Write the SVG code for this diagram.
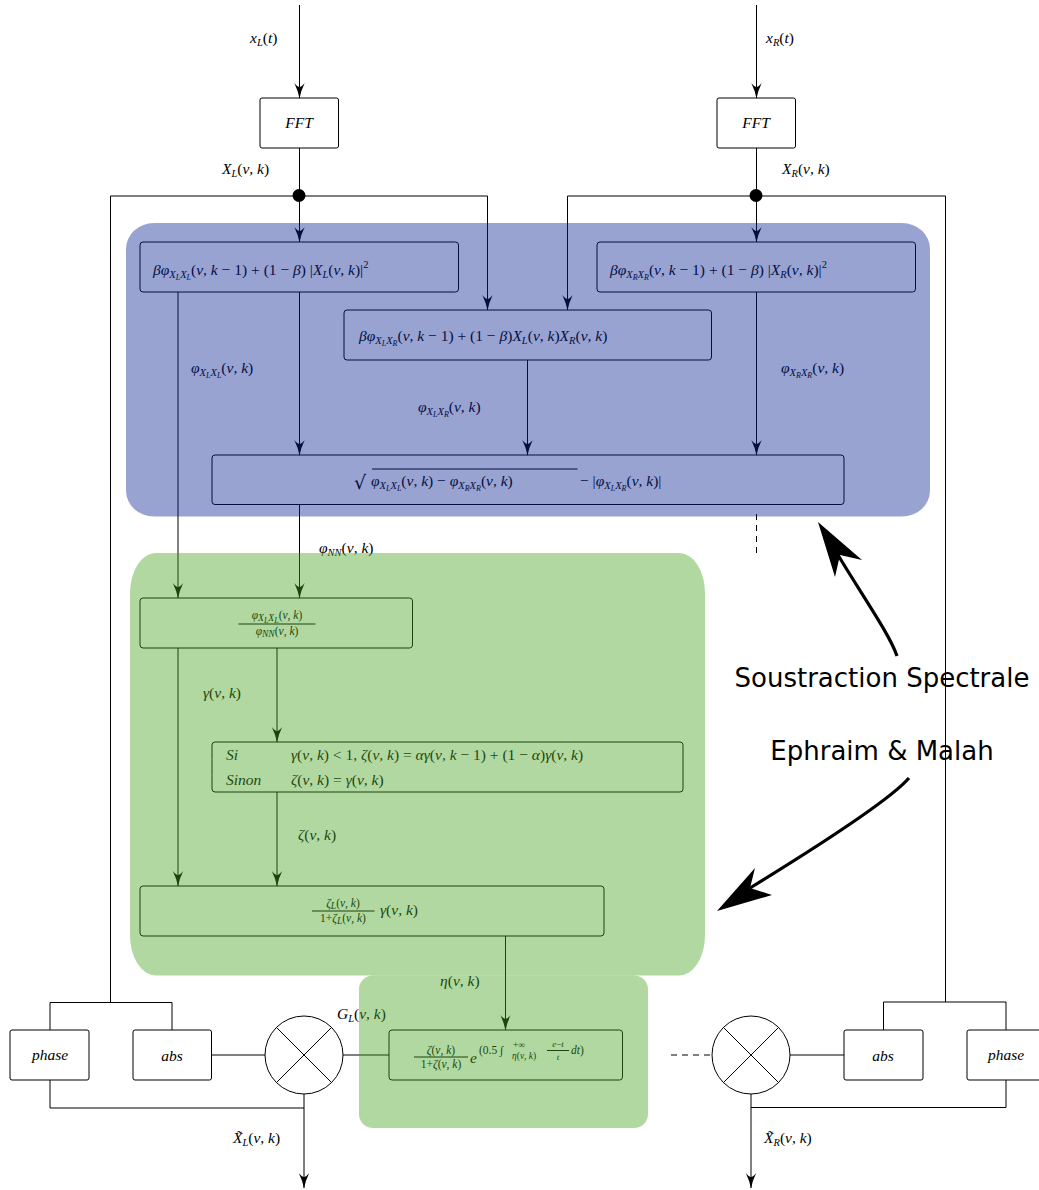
<svg xmlns="http://www.w3.org/2000/svg" width="1039" height="1190" viewBox="0 0 1039 1190">
<style>
.bg{fill:#fff}
.c{fill:none;stroke:#000;stroke-width:1}
.a{marker-end:url(#ah)}
.d{stroke-dasharray:6 5}
.n{fill:none;stroke:#000;stroke-width:1}
.m{font-family:"Liberation Serif",serif;font-size:15.5px;font-style:italic;fill:#000}
.mc{text-anchor:middle}
.f{font-size:11.5px}
.x{font-size:9.5px}
.u{font-style:normal}
.s{font-size:10.5px}
.fs{font-size:8px}
.bl{fill:rgb(10,36,148);opacity:.42}
.gr{fill:rgb(69,162,31);opacity:.42}
.lab{font-family:"DejaVu Sans",sans-serif;font-size:26px;fill:#000;text-anchor:middle}
.big{fill:none;stroke:#000;stroke-width:3.2}
.seam{stroke:#fff;stroke-width:.7;opacity:.28;fill:none}
</style>
<defs>
<marker id="ah" markerUnits="userSpaceOnUse" markerWidth="16" markerHeight="12" refX="15.5" refY="6" orient="auto">
<path d="M16,6 Q8,4.5 .5,.8 Q4.5,4 4.5,6 Q4.5,8 .5,11.2 Q8,7.5 16,6Z" fill="#000"/>
</marker>
</defs>
<rect class="bg" width="1039" height="1190"/>
<g id="connectors">
<path class="c a" d="M299.5,5V98"/>
<path class="c a" d="M756.5,5V98"/>
<path class="c" d="M299.5,148V196"/>
<path class="c" d="M756.5,148V196"/>
<path class="c a" d="M299.5,196V242"/>
<path class="c a" d="M756.5,196V242"/>
<path class="c a" d="M299.5,196H487.5V310"/>
<path class="c a" d="M756.5,196H567.5V310"/>
<path class="c" d="M299.5,196H110.5V1002.5"/>
<path class="c" d="M756.5,196H945.5V1002"/>
<path class="c" d="M50,1030V1002.5H172V1030"/>
<path class="c" d="M883.5,1030V1002H1006V1030"/>
<path class="c a" d="M178,292V598"/>
<path class="c a" d="M299.5,292V455"/>
<path class="c a" d="M527.5,360V455"/>
<path class="c a" d="M756.5,292V455"/>
<path class="c a" d="M299.5,504V598"/>
<path class="c d" d="M756.5,514V556"/>
<path class="c a" d="M277,648V742"/>
<path class="c a" d="M178,648V886"/>
<path class="c a" d="M277,792V886"/>
<path class="c a" d="M505.5,936V1030"/>
<path class="c" d="M211,1055H265"/>
<path class="c" d="M343,1055H389"/>
<path class="c d" d="M671,1055H712"/>
<path class="c" d="M790,1055H844"/>
<path class="c" d="M50,1080V1108H304"/>
<path class="c" d="M1006,1080V1107.500H751"/>
<path class="c a" d="M304,1094V1188"/>
<path class="c a" d="M751,1094V1188"/>
<circle cx="299" cy="195.500" r="6.500" fill="#000"/>
<circle cx="756" cy="195.500" r="6.500" fill="#000"/>
</g>
<g id="fft-l"><rect class="n" x="260" y="98" width="78.500" height="50" rx="2"/><text class="m mc" x="299" y="128">FFT</text></g>
<g id="fft-r"><rect class="n" x="717" y="98" width="78.500" height="50" rx="2"/><text class="m mc" x="756" y="128">FFT</text></g>
<g id="psd-ll"><rect class="n" x="140" y="242" width="318.500" height="50" rx="3"/>
<text class="m" x="153" y="275">βφ<tspan class="s" dy="3">X</tspan><tspan class="fs" dy="2">L</tspan><tspan class="s" dy="-2">X</tspan><tspan class="fs" dy="2">L</tspan><tspan class="u" dy="-5">(</tspan>ν, k <tspan class="u">− 1) + (1 − </tspan>β<tspan class="u">) |</tspan>X<tspan class="s" dy="3">L</tspan><tspan class="u" dy="-3">(</tspan>ν, k<tspan class="u">)|</tspan><tspan class="u s" dy="-7">2</tspan></text></g>
<g id="psd-rr"><rect class="n" x="597" y="242" width="318.500" height="50" rx="3"/>
<text class="m" x="610" y="275">βφ<tspan class="s" dy="3">X</tspan><tspan class="fs" dy="2">R</tspan><tspan class="s" dy="-2">X</tspan><tspan class="fs" dy="2">R</tspan><tspan class="u" dy="-5">(</tspan>ν, k <tspan class="u">− 1) + (1 − </tspan>β<tspan class="u">) |</tspan>X<tspan class="s" dy="3">R</tspan><tspan class="u" dy="-3">(</tspan>ν, k<tspan class="u">)|</tspan><tspan class="u s" dy="-7">2</tspan></text></g>
<g id="psd-lr"><rect class="n" x="344" y="310" width="367.500" height="50" rx="3"/>
<text class="m" x="359" y="341">βφ<tspan class="s" dy="3">X</tspan><tspan class="fs" dy="2">L</tspan><tspan class="s" dy="-2">X</tspan><tspan class="fs" dy="2">R</tspan><tspan class="u" dy="-5">(</tspan>ν, k <tspan class="u">− 1) + (1 − </tspan>β<tspan class="u">)</tspan>X<tspan class="s" dy="3">L</tspan><tspan class="u" dy="-3">(</tspan>ν, k<tspan class="u">)</tspan>X<tspan class="s" dy="3">R</tspan><tspan class="u" dy="-3">(</tspan>ν, k<tspan class="u">)</tspan></text></g>
<g id="phi-nn-box"><rect class="n" x="212" y="455" width="632" height="49.500" rx="3"/>
<path class="c" d="M372,469H577.500"/>
<text class="m u" x="354" y="489" style="font-family:'DejaVu Sans',sans-serif;font-size:19px">√</text>
<text class="m" x="371" y="486">φ<tspan class="s" dy="3">X</tspan><tspan class="fs" dy="2">L</tspan><tspan class="s" dy="-2">X</tspan><tspan class="fs" dy="2">L</tspan><tspan class="u" dy="-5">(</tspan>ν, k<tspan class="u">) − </tspan>φ<tspan class="s" dy="3">X</tspan><tspan class="fs" dy="2">R</tspan><tspan class="s" dy="-2">X</tspan><tspan class="fs" dy="2">R</tspan><tspan class="u" dy="-5">(</tspan>ν, k<tspan class="u">)</tspan></text>
<text class="m" x="580" y="486"><tspan class="u">− |</tspan>φ<tspan class="s" dy="3">X</tspan><tspan class="fs" dy="2">L</tspan><tspan class="s" dy="-2">X</tspan><tspan class="fs" dy="2">R</tspan><tspan class="u" dy="-5">(</tspan>ν, k<tspan class="u">)|</tspan></text></g>
<g id="gamma-box"><rect class="n" x="140" y="598" width="272.500" height="50" rx="3"/>
<path class="c" d="M238.500,624H315.500"/>
<text class="m f mc" x="277" y="619">φ<tspan class="x" dy="2">X</tspan><tspan class="fs" dy="2">L</tspan><tspan class="x" dy="-2">X</tspan><tspan class="fs" dy="2">L</tspan><tspan class="u" dy="-4">(</tspan>ν, k<tspan class="u">)</tspan></text>
<text class="m f mc" x="277" y="635">φ<tspan class="x" dy="2">NN</tspan><tspan class="u" dy="-2">(</tspan>ν, k<tspan class="u">)</tspan></text></g>
<g id="zeta-box"><rect class="n" x="212" y="742" width="471" height="50" rx="3"/>
<text class="m" x="226" y="760">Si</text>
<text class="m" x="226" y="785">Sinon</text>
<text class="m" x="291" y="760">γ<tspan class="u">(</tspan>ν, k<tspan class="u">) &lt; 1, </tspan>ζ<tspan class="u">(</tspan>ν, k<tspan class="u">) = </tspan>αγ<tspan class="u">(</tspan>ν, k <tspan class="u">− 1) + (1 − </tspan>α<tspan class="u">)</tspan>γ<tspan class="u">(</tspan>ν, k<tspan class="u">)</tspan></text>
<text class="m" x="291" y="785">ζ<tspan class="u">(</tspan>ν, k<tspan class="u">) = </tspan>γ<tspan class="u">(</tspan>ν, k<tspan class="u">)</tspan></text>
<path class="seam" d="M205,759H493M205,775H300M348,745V790"/></g>
<g id="eta-box"><rect class="n" x="140" y="886" width="464" height="50" rx="3"/>
<path class="c" d="M312,911H374.500"/>
<text class="m f mc" x="343" y="907">ζ<tspan class="x" dy="2">L</tspan><tspan class="u" dy="-2">(</tspan>ν, k<tspan class="u">)</tspan></text>
<text class="m f mc" x="343" y="922"><tspan class="u">1+</tspan>ζ<tspan class="x" dy="2">L</tspan><tspan class="u" dy="-2">(</tspan>ν, k<tspan class="u">)</tspan></text>
<text class="m" x="380" y="915">γ<tspan class="u">(</tspan>ν, k<tspan class="u">)</tspan></text></g>
<g id="gain-box"><rect class="n" x="389" y="1030" width="233.500" height="50" rx="3"/>
<path class="c" d="M414,1057H468"/>
<text class="m f mc" x="441" y="1054">ζ<tspan class="u">(</tspan>ν, k<tspan class="u">)</tspan></text>
<text class="m f mc" x="441" y="1068"><tspan class="u">1+</tspan>ζ<tspan class="u">(</tspan>ν, k<tspan class="u">)</tspan></text>
<text class="m" x="470" y="1063">e</text>
<text class="m f" x="479" y="1054"><tspan class="u">(0.5 ∫</tspan></text>
<text class="m" x="513" y="1048" style="font-size:9.500px"><tspan class="u">+∞</tspan></text>
<text class="m" x="512" y="1059" style="font-size:9.500px">η<tspan class="u">(</tspan>ν, k<tspan class="u">)</tspan></text>
<path class="c" d="M547,1050.500H569" stroke-width=".7"/>
<text class="m mc" x="558" y="1047" style="font-size:9px">e<tspan class="u">−</tspan>t</text>
<text class="m mc" x="558" y="1060" style="font-size:9px">t</text>
<text class="m f" x="571" y="1054">dt<tspan class="u">)</tspan></text></g>
<g id="phase-l"><rect class="n" x="10" y="1030" width="79" height="50" rx="2"/><text class="m mc" x="50" y="1060">phase</text></g>
<g id="abs-l"><rect class="n" x="133" y="1030" width="78.500" height="50" rx="2"/><text class="m mc" x="172" y="1061">abs</text></g>
<g id="abs-r"><rect class="n" x="844" y="1030" width="79" height="50" rx="2"/><text class="m mc" x="883" y="1061">abs</text></g>
<g id="phase-r"><rect class="n" x="967" y="1030" width="79" height="50" rx="2"/><text class="m mc" x="1006" y="1060">phase</text></g>
<g id="mult-l"><circle class="n" cx="304" cy="1055" r="39"/><path class="c" d="M276.500,1027.500L331.500,1082.500M331.500,1027.500L276.500,1082.500"/></g>
<g id="mult-r"><circle class="n" cx="751" cy="1055" r="39"/><path class="c" d="M723.500,1027.500L778.500,1082.500M778.500,1027.500L723.500,1082.500"/></g>
<g id="labels">
<text class="m" x="250" y="43">x<tspan class="s" dy="3">L</tspan><tspan class="u" dy="-3">(</tspan>t<tspan class="u">)</tspan></text>
<text class="m" x="766" y="43">x<tspan class="s" dy="3">R</tspan><tspan class="u" dy="-3">(</tspan>t<tspan class="u">)</tspan></text>
<text class="m" x="222" y="174">X<tspan class="s" dy="3">L</tspan><tspan class="u" dy="-3">(</tspan>ν, k<tspan class="u">)</tspan></text>
<text class="m" x="782" y="174">X<tspan class="s" dy="3">R</tspan><tspan class="u" dy="-3">(</tspan>ν, k<tspan class="u">)</tspan></text>
<text class="m" x="191" y="373">φ<tspan class="s" dy="3">X</tspan><tspan class="fs" dy="2">L</tspan><tspan class="s" dy="-2">X</tspan><tspan class="fs" dy="2">L</tspan><tspan class="u" dy="-5">(</tspan>ν, k<tspan class="u">)</tspan></text>
<text class="m" x="418" y="412">φ<tspan class="s" dy="3">X</tspan><tspan class="fs" dy="2">L</tspan><tspan class="s" dy="-2">X</tspan><tspan class="fs" dy="2">R</tspan><tspan class="u" dy="-5">(</tspan>ν, k<tspan class="u">)</tspan></text>
<text class="m" x="781" y="373">φ<tspan class="s" dy="3">X</tspan><tspan class="fs" dy="2">R</tspan><tspan class="s" dy="-2">X</tspan><tspan class="fs" dy="2">R</tspan><tspan class="u" dy="-5">(</tspan>ν, k<tspan class="u">)</tspan></text>
<text class="m" x="319" y="553">φ<tspan class="s" dy="3">NN</tspan><tspan class="u" dy="-3">(</tspan>ν, k<tspan class="u">)</tspan></text>
<text class="m" x="203" y="698">γ<tspan class="u">(</tspan>ν, k<tspan class="u">)</tspan></text>
<text class="m" x="298" y="840">ζ<tspan class="u">(</tspan>ν, k<tspan class="u">)</tspan></text>
<text class="m" x="440" y="986">η<tspan class="u">(</tspan>ν, k<tspan class="u">)</tspan></text>
<text class="m" x="337" y="1019">G<tspan class="s" dy="3">L</tspan><tspan class="u" dy="-3">(</tspan>ν, k<tspan class="u">)</tspan></text>
<text class="m" x="233" y="1143">X̃<tspan class="s" dy="3">L</tspan><tspan class="u" dy="-3">(</tspan>ν, k<tspan class="u">)</tspan></text>
<text class="m" x="764" y="1143">X̃<tspan class="s" dy="3">R</tspan><tspan class="u" dy="-3">(</tspan>ν, k<tspan class="u">)</tspan></text>
</g>
<g id="regions">
<rect id="region-ss" class="bl" x="126" y="223" width="804" height="293.500" rx="28" ry="26"/>
<rect id="region-em" class="gr" x="130" y="553" width="575" height="422.500" rx="26" ry="40"/>
<rect id="region-gain" class="gr" x="359" y="975.500" width="289" height="152.500" rx="14" ry="14"/>
</g>
<g id="callouts">
<path class="big" d="M897,656C890,635 862,595 838,555"/>
<path d="M818,522L862,560L840,555L835,577Z" fill="#000"/>
<text class="lab" x="882" y="687">Soustraction Spectrale</text>
<text class="lab" x="882" y="760">Ephraim &amp; Malah</text>
<path class="big" d="M909,778C890,800 820,845 750,888"/>
<path d="M717,911L755,868L750,888L772,895Z" fill="#000"/>
</g>
</svg>
